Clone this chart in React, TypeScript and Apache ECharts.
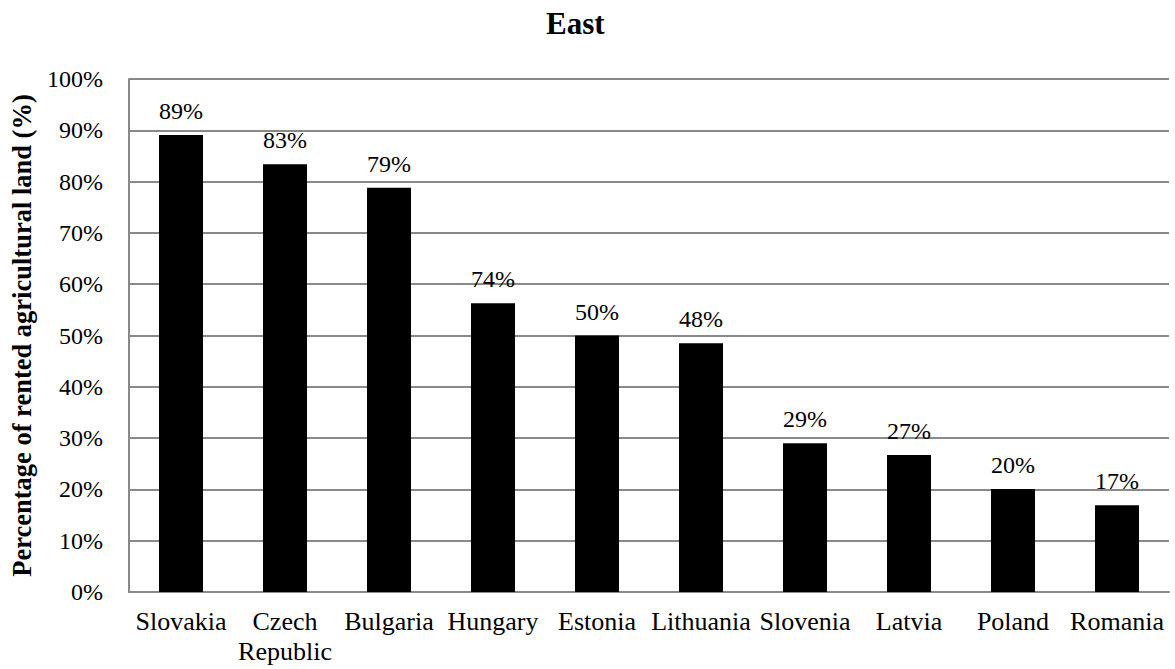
import React, { useEffect, useRef } from "react";
import * as echarts from "echarts";

const categories = ["Slovakia", "Czech\nRepublic", "Bulgaria", "Hungary", "Estonia", "Lithuania", "Slovenia", "Latvia", "Poland", "Romania"];
const barValues = [89.1, 83.4, 78.8, 56.3, 50.0, 48.5, 29.0, 26.7, 20.1, 16.9];
const labelTexts = ["89%", "83%", "79%", "74%", "50%", "48%", "29%", "27%", "20%", "17%"];
const yTicks = [0, 10, 20, 30, 40, 50, 60, 70, 80, 90, 100];

const FONT = "Liberation Serif";

export default function App() {
  const ref = useRef<HTMLDivElement>(null);
  useEffect(() => {
    const chart = echarts.init(ref.current!, null, { renderer: "svg" });
    chart.setOption({
      animation: false,
      backgroundColor: "#ffffff",
      title: {
        text: "East",
        left: 541,
        top: 3,
        textStyle: { fontFamily: FONT, fontWeight: "bold", fontSize: 31, color: "#000" },
      },
      grid: { left: 128, right: 6, top: 79, bottom: 77, containLabel: false },
      xAxis: {
        type: "category",
        data: categories,
        axisLine: { show: true, lineStyle: { color: "#898989", width: 2 } },
        axisTick: { show: false },
        axisLabel: {
          interval: 0,
          margin: 14,
          fontFamily: FONT,
          fontSize: 26,
          color: "#000",
          lineHeight: 30,
        },
      },
      yAxis: {
        type: "value",
        min: 0,
        max: 100,
        interval: 10,
        name: "Percentage of rented agricultural land (%)",
        nameLocation: "middle",
        nameGap: 94,
        nameTextStyle: { fontFamily: FONT, fontWeight: "bold", fontSize: 26.5, color: "#000" },
        axisLine: { show: true, lineStyle: { color: "#898989", width: 2 } },
        axisTick: { show: false },
        splitLine: { show: true, lineStyle: { color: "#898989", width: 2 } },
        axisLabel: {
          margin: 26,
          fontFamily: FONT,
          fontSize: 24,
          color: "#000",
          formatter: (v: number) => (yTicks.includes(v) ? `${v}%` : ""),
        },
      },
      series: [
        {
          type: "bar",
          data: barValues,
          barWidth: 44,
          itemStyle: { color: "#000000" },
          label: {
            show: true,
            position: "top",
            distance: 12,
            fontFamily: FONT,
            fontSize: 24,
            color: "#000",
            formatter: (p: any) => labelTexts[p.dataIndex],
          },
        },
      ],
    });
    return () => chart.dispose();
  }, []);
  return <div ref={ref} style={{ width: 1175, height: 669, position: "absolute", left: 0, top: 0 }} />;
}
